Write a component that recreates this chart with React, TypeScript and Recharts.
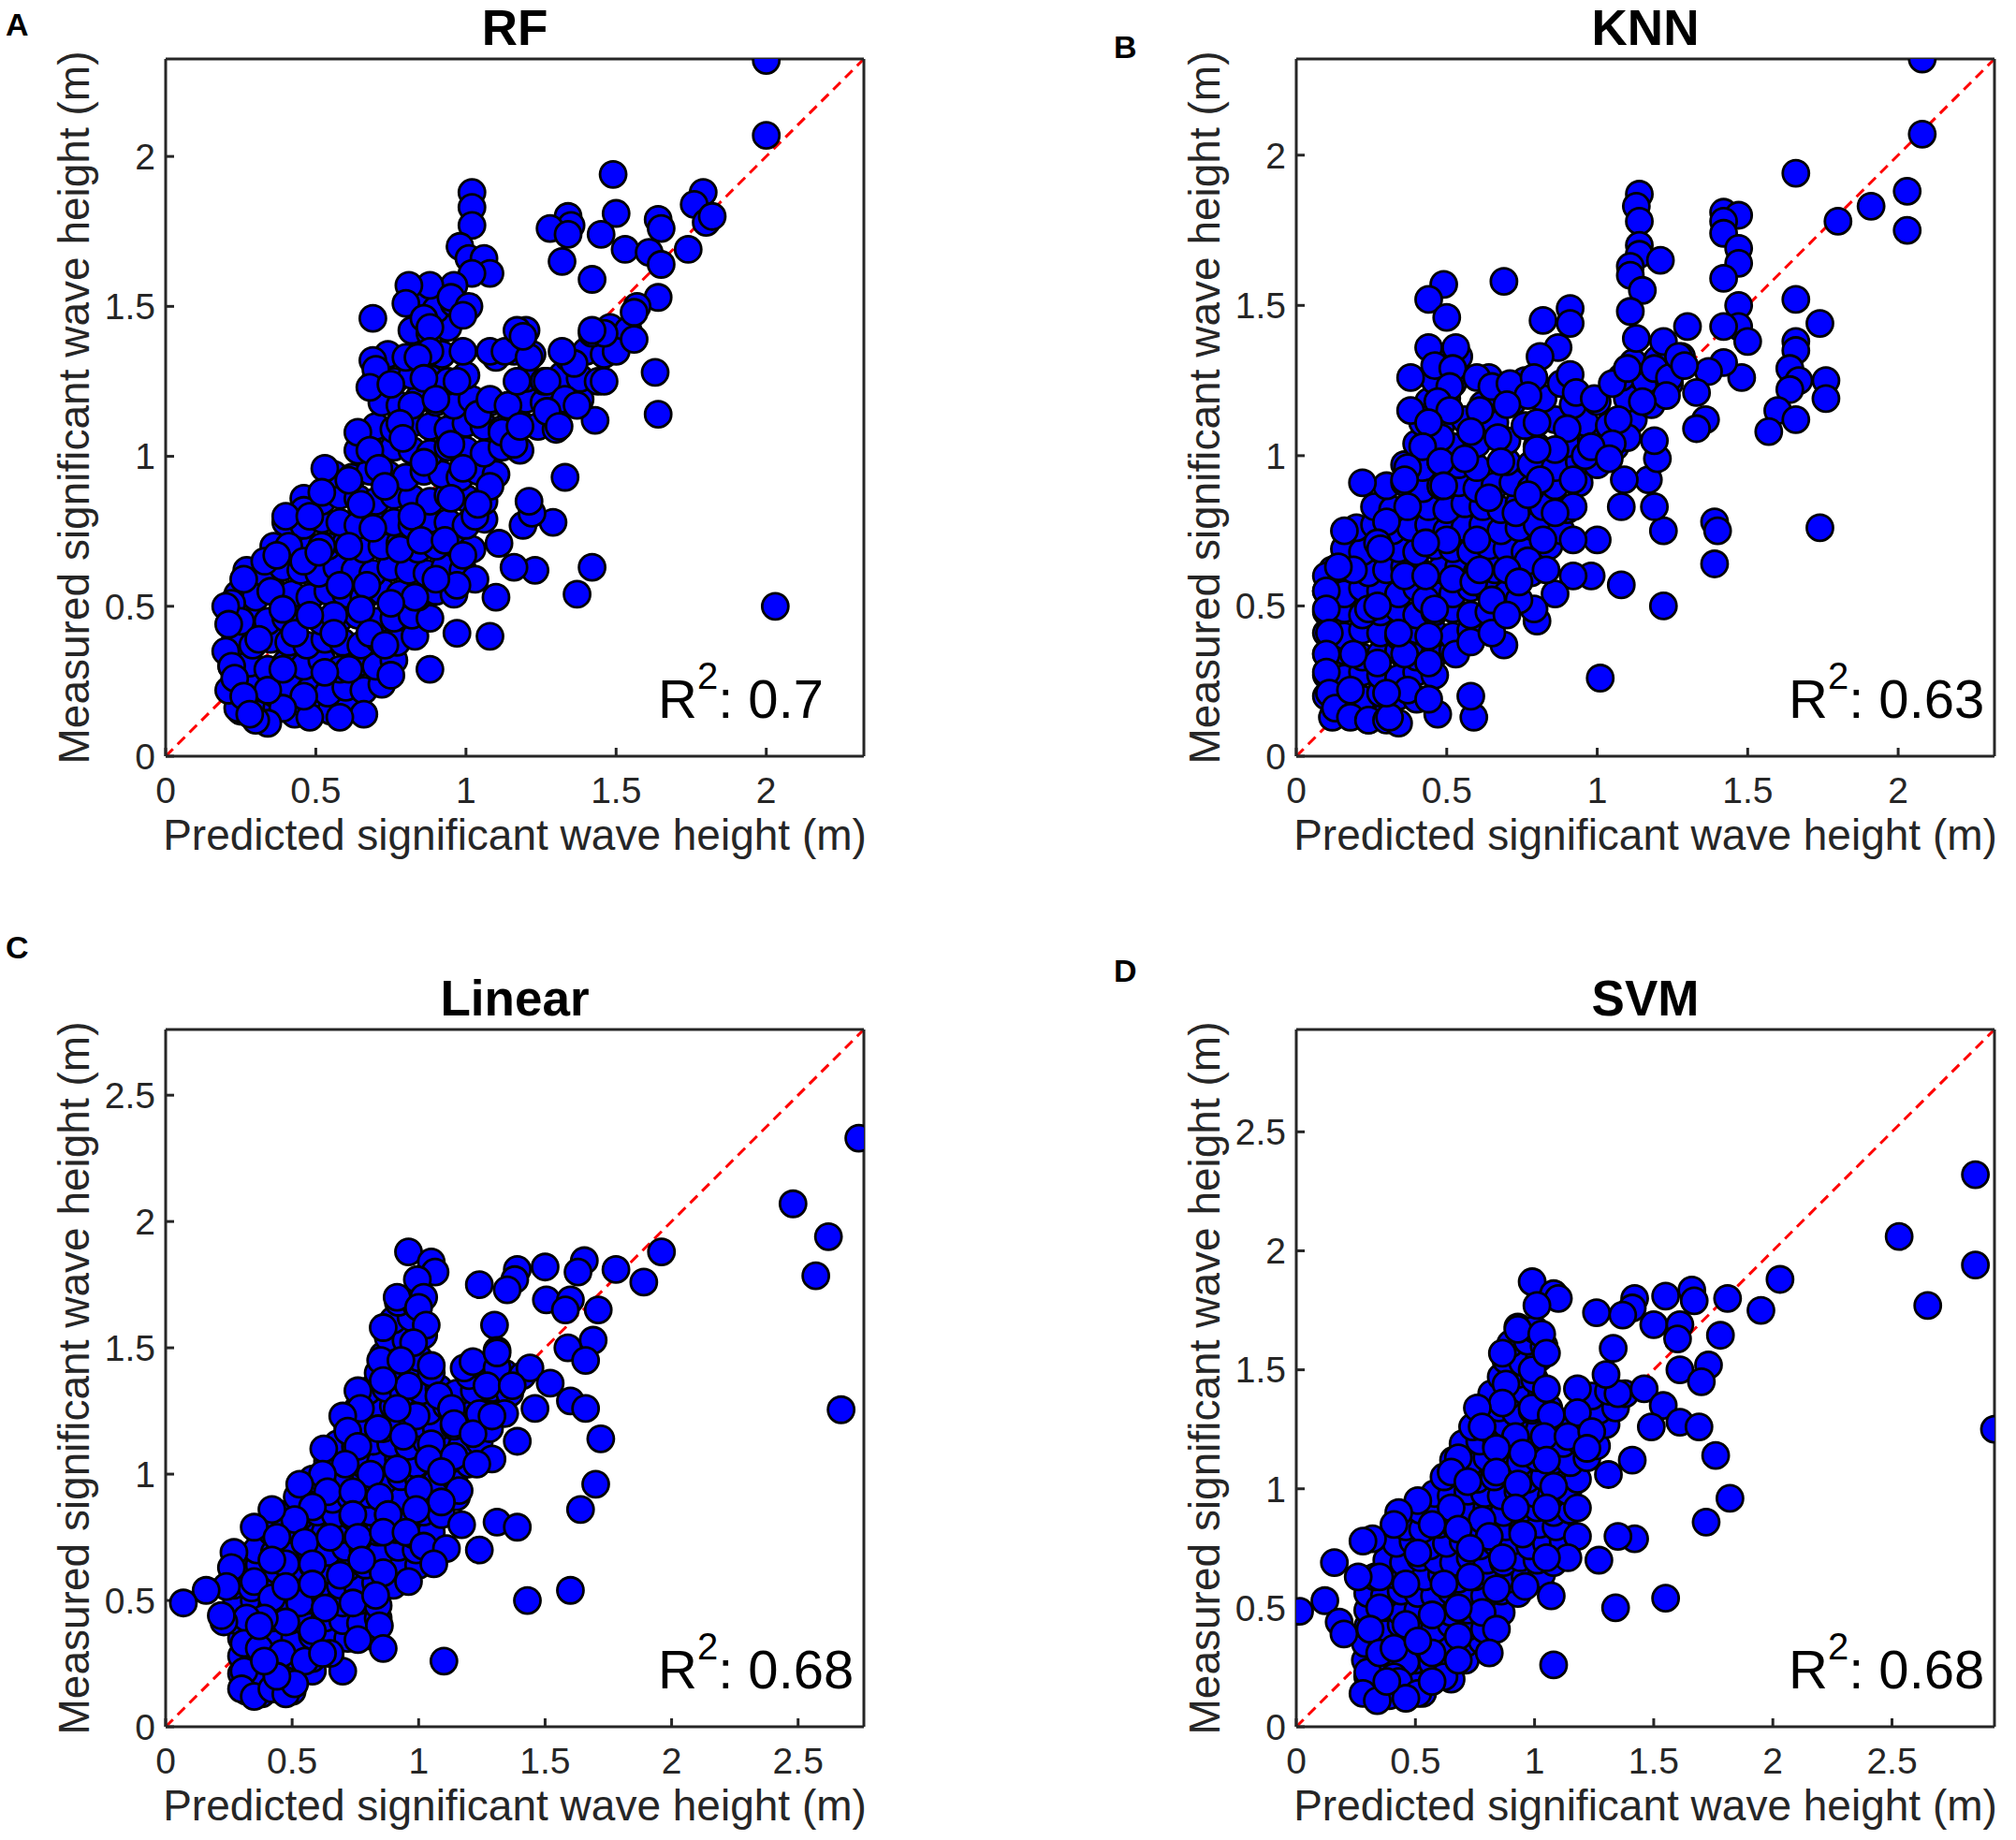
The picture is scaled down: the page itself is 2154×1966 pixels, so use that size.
import React from 'react';
import { ScatterChart, Scatter, XAxis, YAxis, ReferenceLine } from 'recharts';

// All values are [predicted, measured] pairs (m).
// "Core" arrays: points inside the dense clusters; "Pairs" arrays: distinguishable points.
const rfCore: number[][] = [
  [0.25,0.15],[0.31,0.14],[0.37,0.16],[0.43,0.14],[0.49,0.16],[0.55,0.15],[0.61,0.16],
  [0.24,0.22],[0.30,0.23],[0.36,0.21],[0.42,0.23],[0.48,0.22],[0.54,0.21],[0.60,0.23],[0.66,0.22],[0.72,0.24],
  [0.22,0.30],[0.28,0.31],[0.34,0.29],[0.40,0.31],[0.46,0.30],[0.52,0.32],[0.58,0.29],[0.64,0.31],[0.70,0.30],[0.76,0.32],
  [0.23,0.38],[0.29,0.37],[0.35,0.39],[0.41,0.38],[0.47,0.37],[0.53,0.39],[0.59,0.38],[0.65,0.37],[0.71,0.39],[0.77,0.38],[0.83,0.40],
  [0.22,0.46],[0.28,0.47],[0.34,0.45],[0.40,0.46],[0.46,0.47],[0.52,0.45],[0.58,0.46],[0.64,0.47],[0.70,0.45],[0.76,0.46],[0.82,0.47],[0.88,0.46],
  [0.24,0.54],[0.30,0.53],[0.36,0.55],[0.42,0.54],[0.48,0.53],[0.54,0.55],[0.60,0.54],[0.66,0.53],[0.72,0.55],[0.78,0.54],[0.84,0.53],[0.90,0.55],[0.96,0.54],
  [0.27,0.62],[0.33,0.61],[0.39,0.63],[0.45,0.62],[0.51,0.61],[0.57,0.63],[0.63,0.62],[0.69,0.61],[0.75,0.63],[0.81,0.62],[0.87,0.61],[0.93,0.63],[0.99,0.62],
  [0.36,0.70],[0.42,0.71],[0.48,0.69],[0.54,0.70],[0.60,0.71],[0.66,0.69],[0.72,0.70],[0.78,0.71],[0.84,0.69],[0.90,0.70],[0.96,0.71],[1.02,0.69],
  [0.40,0.78],[0.46,0.77],[0.52,0.79],[0.58,0.78],[0.64,0.77],[0.70,0.79],[0.76,0.78],[0.82,0.77],[0.88,0.79],[0.94,0.78],[1.00,0.77],[1.06,0.79],
  [0.46,0.86],[0.52,0.85],[0.58,0.87],[0.64,0.86],[0.70,0.85],[0.76,0.87],[0.82,0.86],[0.88,0.85],[0.94,0.87],[1.00,0.86],[1.06,0.85],
  [0.56,0.94],[0.62,0.93],[0.68,0.95],[0.74,0.94],[0.80,0.93],[0.86,0.95],[0.92,0.94],[0.98,0.93],[1.04,0.95],[1.10,0.94],
  [0.64,1.02],[0.70,1.01],[0.76,1.03],[0.82,1.02],[0.88,1.01],[0.94,1.03],[1.00,1.02],[1.06,1.01],[1.12,1.03],[1.18,1.02],
  [0.70,1.10],[0.76,1.09],[0.82,1.11],[0.88,1.10],[0.94,1.09],[1.00,1.11],[1.06,1.10],[1.12,1.09],[1.18,1.11],[1.24,1.10],[1.30,1.09],
  [0.72,1.18],[0.78,1.17],[0.84,1.19],[0.90,1.18],[0.96,1.17],[1.02,1.19],[1.08,1.18],[1.14,1.17],[1.20,1.19],[1.26,1.18],[1.32,1.17],[1.38,1.19],
  [0.70,1.26],[0.76,1.25],[0.82,1.27],[0.88,1.26],[0.94,1.25],[1.00,1.27],[1.20,1.26],[1.26,1.25],[1.32,1.27],[1.38,1.26],[1.44,1.25],
  [0.74,1.34],[0.80,1.33],[0.86,1.35],[0.92,1.34],[1.10,1.33],[1.16,1.35],[1.22,1.34],[1.34,1.33],[1.40,1.35],[1.46,1.34],
  [0.82,1.42],[0.88,1.41],[0.94,1.43],[1.20,1.42],[1.42,1.41],[1.48,1.43],[1.54,1.42],
  [0.84,1.50],[0.90,1.49],[0.96,1.51],
];

const rfPairs: number[][] = [
  [2.0,2.32],[2.0,2.07],[2.03,0.5],[1.49,1.94],[1.79,1.88],[1.76,1.84],[1.80,1.78],[1.82,1.80],[1.50,1.81],[1.34,1.80],
  [1.35,1.77],[1.28,1.76],[1.45,1.74],[1.34,1.74],[1.53,1.69],[1.74,1.69],[1.64,1.79],[1.65,1.76],[1.61,1.68],[1.65,1.64],
  [1.32,1.65],[1.42,1.59],[1.64,1.53],[1.57,1.50],[1.56,1.48],[1.63,1.28],[1.64,1.14],[1.50,1.35],[1.56,1.39],[1.46,1.41],
  [1.42,1.42],[1.46,1.25],[1.43,1.12],[1.33,0.93],[1.29,0.78],[1.19,0.77],[1.22,0.81],[1.21,0.85],[1.42,0.63],[1.37,0.54],
  [1.23,0.62],[1.16,0.63],[1.11,0.71],[1.10,0.53],[1.08,0.40],[0.97,0.41],[0.88,0.29],
  [1.02,1.88],[1.02,1.83],[1.02,1.77],[0.98,1.70],[1.01,1.66],[1.06,1.66],[1.08,1.61],[1.02,1.61],[0.96,1.57],[0.88,1.57],
  [0.95,1.53],[1.01,1.50],[0.99,1.47],[0.81,1.57],[0.80,1.51],[0.86,1.46],[0.88,1.43],[0.69,1.46],[0.88,1.35],[0.84,1.33],
  [0.99,1.35],[1.08,1.35],[1.13,1.35],[1.21,1.33],[1.17,1.42],[1.19,1.40],[0.69,1.32],[0.70,1.29],[0.68,1.23],[0.75,1.24],
  [0.86,1.26],[0.97,1.25],[0.82,1.17],[0.90,1.19],[0.78,1.11],[0.64,1.08],[0.68,1.02],[0.71,0.96],[0.79,1.06],[0.86,0.98],
  [0.95,1.04],[1.04,1.14],[1.08,1.19],[1.14,1.17],[1.12,1.08],[1.16,1.04],[1.17,1.25],[1.27,1.25],[1.33,1.19],[1.36,1.31],
  [1.32,1.35],[1.27,1.15],[1.31,1.10],[1.37,1.17],[1.18,1.10],
  [0.53,0.96],[0.61,0.92],[0.46,0.82],[0.40,0.80],[0.48,0.80],[0.52,0.88],[0.65,0.84],[0.73,0.90],[0.82,0.80],[0.95,0.86],
  [1.03,0.80],[1.08,0.90],[0.99,0.96],[1.04,0.84],[0.41,0.70],[0.46,0.65],[0.52,0.70],[0.61,0.70],[0.69,0.76],[0.78,0.69],
  [0.85,0.72],[0.93,0.72],[0.99,0.67],[1.03,0.59],[0.97,0.57],[0.90,0.59],[0.83,0.53],[0.75,0.51],[0.67,0.57],[0.58,0.57],
  [0.56,0.47],[0.65,0.49],[0.68,0.41],[0.73,0.37],[0.75,0.27],[0.66,0.14],[0.61,0.29],[0.56,0.41],[0.53,0.28],[0.58,0.13],
  [0.48,0.13],[0.46,0.20],[0.39,0.16],[0.34,0.11],[0.30,0.12],[0.24,0.16],[0.21,0.22],[0.20,0.35],[0.22,0.51],[0.26,0.59],
  [0.33,0.65],[0.35,0.55],[0.25,0.45],[0.31,0.39],[0.34,0.22],[0.39,0.29],[0.43,0.41],[0.48,0.47],[0.39,0.49],[0.51,0.68],
  [0.37,0.67],[0.20,0.50],[0.21,0.44],[0.22,0.30],[0.23,0.26],[0.26,0.20],[0.28,0.14],
];

const knnCore: number[][] = [
  [0.12,0.13],[0.18,0.14],[0.24,0.12],[0.30,0.14],
  [0.10,0.20],[0.16,0.21],[0.22,0.19],[0.28,0.21],[0.34,0.20],[0.40,0.19],
  [0.10,0.27],[0.16,0.26],[0.22,0.28],[0.28,0.27],[0.34,0.26],[0.40,0.28],[0.46,0.27],
  [0.10,0.34],[0.16,0.35],[0.22,0.33],[0.28,0.34],[0.34,0.35],[0.40,0.33],[0.46,0.34],[0.52,0.35],
  [0.10,0.41],[0.16,0.40],[0.22,0.42],[0.28,0.41],[0.34,0.40],[0.40,0.42],[0.46,0.41],[0.52,0.40],[0.58,0.42],
  [0.10,0.48],[0.16,0.49],[0.22,0.47],[0.28,0.48],[0.34,0.49],[0.40,0.47],[0.46,0.48],[0.52,0.49],[0.58,0.47],[0.64,0.48],
  [0.10,0.55],[0.16,0.54],[0.22,0.56],[0.28,0.55],[0.34,0.54],[0.40,0.56],[0.46,0.55],[0.52,0.54],[0.58,0.56],[0.64,0.55],[0.70,0.54],
  [0.12,0.62],[0.18,0.63],[0.24,0.61],[0.30,0.62],[0.36,0.63],[0.42,0.61],[0.48,0.62],[0.54,0.63],[0.60,0.61],[0.66,0.62],[0.72,0.63],[0.78,0.61],
  [0.16,0.69],[0.22,0.68],[0.28,0.70],[0.34,0.69],[0.40,0.68],[0.46,0.70],[0.52,0.69],[0.58,0.68],[0.64,0.70],[0.70,0.69],[0.76,0.68],[0.84,0.70],
  [0.20,0.76],[0.26,0.77],[0.32,0.75],[0.38,0.76],[0.44,0.77],[0.50,0.75],[0.56,0.76],[0.62,0.77],[0.68,0.75],[0.74,0.76],[0.80,0.77],[0.88,0.75],
  [0.26,0.83],[0.32,0.82],[0.38,0.84],[0.44,0.83],[0.50,0.82],[0.56,0.84],[0.62,0.83],[0.68,0.82],[0.74,0.84],[0.82,0.83],[0.90,0.82],
  [0.30,0.90],[0.36,0.91],[0.42,0.89],[0.48,0.90],[0.54,0.91],[0.60,0.89],[0.66,0.90],[0.72,0.91],[0.78,0.89],[0.86,0.90],[0.94,0.91],
  [0.36,0.97],[0.42,0.96],[0.48,0.98],[0.54,0.97],[0.60,0.96],[0.70,0.98],[0.78,0.97],[0.86,0.96],[0.94,0.98],[1.00,0.97],
  [0.40,1.04],[0.46,1.05],[0.52,1.03],[0.60,1.04],[0.70,1.05],[0.80,1.03],[0.90,1.04],[0.98,1.05],[1.06,1.03],
  [0.42,1.11],[0.48,1.10],[0.56,1.12],[0.66,1.11],[0.76,1.10],[0.86,1.12],[0.96,1.11],[1.04,1.10],[1.12,1.12],
  [0.44,1.18],[0.50,1.19],[0.62,1.17],[0.72,1.18],[0.82,1.19],[0.92,1.17],[1.00,1.18],[1.10,1.19],[1.18,1.17],
  [0.46,1.25],[0.52,1.24],[0.64,1.26],[0.76,1.25],[0.88,1.24],[1.08,1.26],[1.16,1.25],[1.24,1.24],
  [0.48,1.32],[0.54,1.33],[1.12,1.31],[1.20,1.32],[1.28,1.33],
];

const knnPairs: number[][] = [
  [2.08,2.32],[2.08,2.07],[1.66,1.94],[2.03,1.88],[1.91,1.83],[1.80,1.78],[2.03,1.75],[1.14,1.87],[1.13,1.83],[1.14,1.78],
  [1.14,1.70],[1.14,1.67],[1.21,1.65],[1.11,1.63],[1.11,1.60],[1.15,1.55],[1.11,1.48],[1.13,1.39],[1.42,1.81],[1.47,1.80],
  [1.42,1.78],[1.42,1.74],[1.47,1.69],[1.47,1.64],[1.42,1.59],[1.66,1.52],[1.47,1.50],[1.74,1.44],[1.47,1.43],[1.42,1.43],
  [1.50,1.38],[1.66,1.38],[1.66,1.35],[1.64,1.29],[1.67,1.25],[1.76,1.25],[1.76,1.19],[1.64,1.22],[1.60,1.15],[1.57,1.08],
  [1.66,1.12],[1.48,1.26],[1.42,1.31],[1.37,1.28],[1.30,1.43],[1.33,1.21],[1.36,1.12],[1.33,1.09],[1.74,0.76],[1.39,0.78],
  [1.40,0.75],[1.39,0.64],[1.22,0.50],[1.22,0.75],[1.19,0.83],[1.08,0.83],[1.08,0.57],[1.01,0.26],[1.17,0.92],[1.09,0.92],
  [1.20,0.99],[1.19,1.05],[1.10,1.06],[1.07,1.12],[1.05,1.04],[1.00,0.72],[0.98,0.60],[0.92,0.60],[0.86,0.54],[0.80,0.45],
  [0.79,0.49],[0.74,0.52],[0.69,0.37],[0.59,0.13],[0.58,0.20],[0.47,0.14],[0.69,1.58],[0.82,1.45],[0.91,1.49],[0.91,1.44],
  [0.87,1.36],[0.81,1.33],[0.91,1.27],[0.93,1.21],[0.99,1.19],[1.05,1.24],[1.10,1.29],[1.19,1.29],[1.22,1.38],[1.24,1.26],
  [1.27,1.33],[1.29,1.30],[1.23,1.20],[1.15,1.18],[0.49,1.57],[0.44,1.52],[0.50,1.46],[0.53,1.36],[0.44,1.36],[0.46,1.30],
  [0.38,1.26],[0.52,1.29],[0.51,1.23],[0.38,1.15],[0.47,1.18],[0.51,1.15],[0.60,1.26],[0.65,1.23],[0.71,1.24],[0.79,1.26],
  [0.77,1.20],[0.61,1.15],[0.70,1.17],[0.80,1.11],[0.90,1.09],[0.86,1.02],[0.80,1.02],[0.67,1.06],[0.58,1.08],[0.48,1.06],
  [0.44,1.11],[0.42,1.03],[0.48,0.98],[0.56,0.99],[0.68,0.98],[0.81,0.92],[0.96,1.00],[0.98,1.03],[1.04,0.99],[0.92,0.83],
  [0.92,0.92],[0.37,0.96],[0.22,0.91],[0.36,0.92],[0.49,0.90],[0.64,0.86],[0.73,0.81],[0.77,0.87],[0.86,0.81],[0.92,0.72],
  [0.82,0.72],[0.77,0.65],[0.70,0.62],[0.60,0.72],[0.50,0.72],[0.43,0.71],[0.37,0.83],[0.30,0.78],[0.27,0.71],[0.16,0.75],
  [0.19,0.62],[0.10,0.60],[0.10,0.55],[0.10,0.49],[0.11,0.41],[0.10,0.34],[0.10,0.28],[0.11,0.21],[0.13,0.16],[0.18,0.13],
  [0.24,0.12],[0.30,0.12],[0.34,0.11],[0.31,0.13],[0.18,0.22],[0.27,0.31],[0.36,0.34],[0.44,0.31],[0.53,0.34],[0.58,0.38],
  [0.44,0.40],[0.34,0.41],[0.24,0.49],[0.27,0.50],[0.43,0.52],[0.52,0.59],[0.59,0.58],[0.65,0.52],[0.65,0.41],[0.61,0.62],
  [0.28,0.69],[0.36,0.60],[0.43,0.60],[0.14,0.63],[0.37,0.22],[0.44,0.19],[0.30,0.21],[0.19,0.34],[0.46,0.49],[0.70,0.47],
  [0.74,0.58],[0.83,0.62],
];

const linearCore: number[][] = [
  [0.32,0.14],[0.38,0.13],[0.44,0.15],[0.50,0.14],
  [0.30,0.21],[0.37,0.22],[0.44,0.20],[0.51,0.21],[0.58,0.22],
  [0.30,0.28],[0.37,0.27],[0.44,0.29],[0.51,0.28],[0.58,0.27],[0.65,0.29],
  [0.30,0.35],[0.37,0.36],[0.44,0.34],[0.51,0.35],[0.58,0.36],[0.65,0.34],[0.72,0.35],[0.80,0.36],
  [0.28,0.42],[0.35,0.41],[0.42,0.43],[0.49,0.42],[0.56,0.41],[0.63,0.43],[0.70,0.42],[0.77,0.41],[0.84,0.43],
  [0.28,0.49],[0.35,0.50],[0.42,0.48],[0.49,0.49],[0.56,0.50],[0.63,0.48],[0.70,0.49],[0.77,0.50],[0.84,0.48],
  [0.27,0.56],[0.34,0.55],[0.41,0.57],[0.48,0.56],[0.55,0.55],[0.62,0.57],[0.69,0.56],[0.76,0.55],[0.83,0.57],[0.90,0.56],
  [0.30,0.63],[0.37,0.64],[0.44,0.62],[0.51,0.63],[0.58,0.64],[0.65,0.62],[0.72,0.63],[0.79,0.64],[0.86,0.62],[0.93,0.63],[1.00,0.64],
  [0.36,0.70],[0.43,0.69],[0.50,0.71],[0.57,0.70],[0.64,0.69],[0.71,0.71],[0.78,0.70],[0.85,0.69],[0.92,0.71],[0.99,0.70],[1.06,0.69],
  [0.42,0.77],[0.49,0.78],[0.56,0.76],[0.63,0.77],[0.70,0.78],[0.77,0.76],[0.84,0.77],[0.91,0.78],[0.98,0.76],[1.05,0.77],
  [0.46,0.84],[0.53,0.83],[0.60,0.85],[0.67,0.84],[0.74,0.83],[0.81,0.85],[0.88,0.84],[0.95,0.83],[1.02,0.85],[1.09,0.84],
  [0.52,0.91],[0.59,0.92],[0.66,0.90],[0.73,0.91],[0.80,0.92],[0.87,0.90],[0.94,0.91],[1.01,0.92],[1.08,0.90],[1.15,0.91],
  [0.58,0.98],[0.65,0.97],[0.72,0.99],[0.79,0.98],[0.86,0.97],[0.93,0.99],[1.00,0.98],[1.07,0.97],[1.14,0.99],
  [0.64,1.05],[0.71,1.06],[0.78,1.04],[0.85,1.05],[0.92,1.06],[0.99,1.04],[1.06,1.05],[1.13,1.06],[1.20,1.04],
  [0.68,1.12],[0.75,1.11],[0.82,1.13],[0.89,1.12],[0.96,1.11],[1.03,1.13],[1.10,1.12],[1.17,1.11],[1.24,1.13],
  [0.72,1.19],[0.79,1.20],[0.86,1.18],[0.93,1.19],[1.00,1.20],[1.07,1.18],[1.14,1.19],[1.21,1.20],[1.28,1.18],
  [0.76,1.26],[0.83,1.25],[0.90,1.27],[0.97,1.26],[1.04,1.25],[1.11,1.27],[1.18,1.26],[1.25,1.25],[1.32,1.27],
  [0.80,1.33],[0.87,1.34],[0.94,1.32],[1.01,1.33],[1.08,1.34],[1.15,1.32],[1.22,1.33],[1.29,1.34],[1.36,1.32],
  [0.84,1.40],[0.91,1.39],[0.98,1.41],[1.05,1.40],[1.20,1.39],[1.27,1.41],[1.34,1.40],[1.41,1.39],
  [0.86,1.47],[0.93,1.48],[1.00,1.46],[0.88,1.54],[0.95,1.53],[1.02,1.55],[0.90,1.61],[0.97,1.62],[0.92,1.68],[0.99,1.67],
];

const linearPairs: number[][] = [
  [2.74,2.33],[2.48,2.07],[2.62,1.94],[2.57,1.785],[2.67,1.255],[1.96,1.88],[1.89,1.76],[1.78,1.81],[1.655,1.845],[1.63,1.80],
  [1.50,1.82],[1.39,1.81],[1.38,1.77],[1.35,1.73],[1.24,1.75],[1.505,1.69],[1.60,1.69],[1.58,1.65],[1.71,1.65],[1.30,1.59],
  [1.69,1.53],[1.59,1.50],[1.66,1.45],[1.31,1.49],[1.44,1.42],[1.52,1.36],[1.60,1.29],[1.66,1.26],[1.46,1.26],[1.72,1.14],
  [1.39,1.13],[1.29,1.06],[1.70,0.96],[1.64,0.86],[1.17,0.80],[1.31,0.81],[1.39,0.79],[1.24,0.70],[1.60,0.54],[1.43,0.50],
  [1.10,0.26],[0.96,1.88],[1.05,1.84],[1.065,1.80],[0.995,1.77],[0.915,1.70],[1.02,1.70],[1.00,1.66],[0.86,1.58],[1.03,1.59],
  [0.98,1.52],[0.85,1.45],[0.93,1.45],[1.05,1.43],[0.96,1.35],[0.76,1.33],[0.86,1.37],[1.18,1.42],[1.215,1.445],[1.31,1.42],
  [1.31,1.48],[1.27,1.35],[1.37,1.35],[1.08,1.31],[1.13,1.26],[1.24,1.24],[1.34,1.24],[1.14,1.20],[1.215,1.16],[1.29,1.23],
  [0.99,1.23],[0.915,1.26],[0.84,1.18],[0.77,1.26],[0.70,1.23],[0.72,1.17],[0.625,1.10],[0.76,1.11],[0.94,1.15],[1.05,1.12],
  [1.04,1.06],[1.14,1.07],[1.23,1.04],[1.09,1.01],[0.915,1.02],[0.81,1.00],[0.71,1.04],[0.62,1.00],[0.53,0.96],[0.64,0.93],
  [0.74,0.93],[0.845,0.91],[1.00,0.94],[1.16,0.935],[1.09,0.89],[0.99,0.86],[0.88,0.84],[0.74,0.84],[0.58,0.87],[0.51,0.82],
  [0.42,0.86],[0.35,0.79],[0.44,0.75],[0.55,0.73],[0.65,0.75],[0.76,0.75],[0.86,0.77],[0.95,0.77],[1.02,0.715],[1.11,0.705],
  [1.06,0.645],[0.96,0.575],[0.86,0.61],[0.775,0.66],[0.69,0.60],[0.58,0.645],[0.475,0.645],[0.42,0.66],[0.27,0.69],[0.26,0.63],
  [0.24,0.555],[0.35,0.575],[0.42,0.51],[0.53,0.49],[0.63,0.47],[0.74,0.49],[0.83,0.52],[0.845,0.40],[0.86,0.31],[0.76,0.345],
  [0.70,0.22],[0.65,0.29],[0.58,0.38],[0.475,0.415],[0.39,0.43],[0.32,0.43],[0.23,0.415],[0.22,0.44],[0.16,0.54],[0.07,0.49],
  [0.31,0.33],[0.37,0.31],[0.46,0.29],[0.55,0.26],[0.62,0.29],[0.31,0.22],[0.30,0.15],[0.35,0.12],[0.42,0.15],[0.475,0.13],
  [0.51,0.17],[0.44,0.20],[0.39,0.26],[0.37,0.40],[0.475,0.555],[0.58,0.565],
];

const svmCore: number[][] = [
  [0.32,0.14],[0.39,0.13],[0.46,0.15],[0.53,0.14],
  [0.30,0.21],[0.37,0.22],[0.44,0.20],[0.51,0.21],[0.58,0.22],[0.65,0.20],
  [0.29,0.28],[0.36,0.27],[0.43,0.29],[0.50,0.28],[0.57,0.27],[0.64,0.29],[0.71,0.28],
  [0.29,0.35],[0.36,0.36],[0.43,0.34],[0.50,0.35],[0.57,0.36],[0.64,0.34],[0.71,0.35],[0.78,0.36],
  [0.30,0.42],[0.37,0.41],[0.44,0.43],[0.51,0.42],[0.58,0.41],[0.65,0.43],[0.72,0.42],[0.79,0.41],
  [0.30,0.49],[0.37,0.50],[0.44,0.48],[0.51,0.49],[0.58,0.50],[0.65,0.48],[0.72,0.49],[0.79,0.50],[0.86,0.48],
  [0.30,0.56],[0.37,0.55],[0.44,0.57],[0.51,0.56],[0.58,0.55],[0.65,0.57],[0.72,0.56],[0.79,0.55],[0.86,0.57],[0.93,0.56],
  [0.33,0.63],[0.40,0.64],[0.47,0.62],[0.54,0.63],[0.61,0.64],[0.68,0.62],[0.75,0.63],[0.82,0.64],[0.89,0.62],[0.96,0.63],[1.03,0.64],
  [0.38,0.70],[0.45,0.69],[0.52,0.71],[0.59,0.70],[0.66,0.69],[0.73,0.71],[0.80,0.70],[0.87,0.69],[0.94,0.71],[1.01,0.70],[1.08,0.69],
  [0.42,0.77],[0.49,0.78],[0.56,0.76],[0.63,0.77],[0.70,0.78],[0.77,0.76],[0.84,0.77],[0.91,0.78],[0.98,0.76],[1.05,0.77],[1.12,0.78],
  [0.46,0.84],[0.53,0.83],[0.60,0.85],[0.67,0.84],[0.74,0.83],[0.81,0.85],[0.88,0.84],[0.95,0.83],[1.02,0.85],[1.09,0.84],
  [0.52,0.91],[0.59,0.92],[0.66,0.90],[0.73,0.91],[0.80,0.92],[0.87,0.90],[0.94,0.91],[1.01,0.92],[1.08,0.90],[1.15,0.91],
  [0.58,0.98],[0.65,0.97],[0.72,0.99],[0.79,0.98],[0.86,0.97],[0.93,0.99],[1.00,0.98],[1.07,0.97],[1.14,0.99],
  [0.62,1.05],[0.69,1.06],[0.76,1.04],[0.83,1.05],[0.90,1.06],[0.97,1.04],[1.04,1.05],[1.11,1.06],[1.18,1.04],
  [0.66,1.12],[0.73,1.11],[0.80,1.13],[0.87,1.12],[0.94,1.11],[1.01,1.13],[1.08,1.12],[1.15,1.11],[1.22,1.13],
  [0.70,1.19],[0.77,1.20],[0.84,1.18],[0.91,1.19],[0.98,1.20],[1.05,1.18],[1.12,1.19],[1.19,1.20],[1.26,1.18],
  [0.74,1.26],[0.81,1.25],[0.88,1.27],[0.95,1.26],[1.02,1.25],[1.09,1.27],[1.16,1.26],[1.23,1.25],[1.30,1.27],
  [0.78,1.33],[0.85,1.34],[0.92,1.32],[0.99,1.33],[1.06,1.34],[1.20,1.32],[1.27,1.33],[1.34,1.34],
  [0.82,1.40],[0.89,1.39],[0.96,1.41],[1.03,1.40],[1.24,1.39],[1.31,1.41],[1.38,1.40],
  [0.86,1.47],[0.93,1.48],[1.00,1.46],[0.88,1.54],[0.95,1.53],[1.02,1.55],[0.90,1.61],[0.97,1.62],[1.04,1.60],[0.93,1.68],[1.00,1.67],
];

const svmPairs: number[][] = [
  [2.85,2.32],[2.53,2.06],[2.85,1.94],[2.65,1.77],[2.93,1.25],[2.03,1.88],[1.95,1.75],[1.81,1.80],[1.78,1.645],[1.66,1.835],
  [1.67,1.79],[1.55,1.81],[1.42,1.80],[1.41,1.76],[1.37,1.73],[1.26,1.74],[1.50,1.69],[1.61,1.69],[1.60,1.63],[1.33,1.59],
  [1.61,1.50],[1.73,1.52],[1.70,1.45],[1.46,1.42],[1.54,1.35],[1.35,1.40],[1.30,1.48],[1.49,1.26],[1.61,1.28],[1.69,1.26],
  [1.76,1.14],[1.41,1.12],[1.31,1.06],[1.82,0.96],[1.72,0.86],[1.42,0.79],[1.35,0.80],[1.27,0.70],[1.34,0.50],[1.55,0.54],
  [1.08,0.26],[0.99,1.87],[1.08,1.82],[1.10,1.80],[1.01,1.77],[0.93,1.67],[1.03,1.65],[0.865,1.57],[0.99,1.50],[1.05,1.57],
  [0.88,1.44],[0.99,1.34],[1.05,1.42],[1.18,1.42],[1.18,1.32],[1.07,1.31],[0.865,1.36],[0.76,1.34],[0.78,1.26],[0.92,1.22],
  [1.04,1.22],[1.14,1.22],[1.24,1.24],[1.22,1.17],[1.05,1.12],[0.95,1.15],[0.84,1.17],[0.68,1.13],[0.65,1.07],[0.72,1.03],
  [0.84,1.07],[0.93,1.02],[1.08,1.01],[1.18,0.92],[1.05,0.92],[0.92,0.92],[0.78,0.87],[0.65,0.92],[0.51,0.95],[0.43,0.90],
  [0.57,0.85],[0.68,0.83],[0.81,0.80],[0.95,0.81],[1.18,0.80],[1.14,0.71],[1.05,0.71],[0.865,0.71],[0.73,0.75],[0.51,0.73],
  [0.41,0.85],[0.32,0.79],[0.28,0.78],[0.35,0.63],[0.26,0.63],[0.16,0.69],[0.12,0.53],[0.014,0.485],[0.18,0.44],[0.20,0.39],
  [0.46,0.60],[0.62,0.60],[0.73,0.63],[0.84,0.58],[0.96,0.59],[1.07,0.55],[0.78,0.48],[0.68,0.50],[0.57,0.47],[0.46,0.43],
  [0.35,0.50],[0.31,0.41],[0.84,0.41],[0.81,0.31],[0.68,0.38],[0.57,0.31],[0.46,0.27],[0.62,0.21],[0.41,0.21],[0.30,0.23],
  [0.28,0.14],[0.34,0.11],[0.43,0.19],[0.51,0.14],[0.46,0.12],[0.35,0.31],[0.41,0.33],[0.51,0.36],[0.68,0.28],[0.57,0.19],
  [0.38,0.19],
];

const xLabel = 'Predicted significant wave height (m)';
const yLabel = 'Measured significant wave height (m)';

const ticksSmall = [0, 0.5, 1, 1.5, 2];
const ticksLarge = [0, 0.5, 1, 1.5, 2, 2.5];

const panels = [
  { letter: 'A', title: 'RF', r2: '0.7', pairs: [...rfCore, ...rfPairs], max: 2.325, ticks: ticksSmall, col: 0, row: 0 },
  { letter: 'B', title: 'KNN', r2: '0.63', pairs: [...knnCore, ...knnPairs], max: 2.32, ticks: ticksSmall, col: 1, row: 0 },
  { letter: 'C', title: 'Linear', r2: '0.68', pairs: [...linearCore, ...linearPairs], max: 2.76, ticks: ticksLarge, col: 0, row: 1 },
  { letter: 'D', title: 'SVM', r2: '0.68', pairs: [...svmCore, ...svmPairs], max: 2.93, ticks: ticksLarge, col: 1, row: 1 },
];

const PLOT_W = 746;
const PLOT_H = 745;
const YAXIS_W = 177;
const MT = 63;
const XAXIS_H = 120;
const MR = 20;
const PLOT_LEFTS = [177, 1385];
const PLOT_TOPS = [63, 1100];
const LETTER_POS = [
  [[6, 38], [1190, 62]],
  [[6, 1024], [1190, 1049]],
];
const AX = '#262626';

const Dot = (p: any) => (
  <circle cx={p.cx} cy={p.cy} r={14} fill="#0000ff" stroke="#000000" strokeWidth={2.8} />
);

function Panel({ cfg }: { cfg: any }) {
  const data = cfg.pairs.map((d: number[]) => ({ x: d[0], y: d[1] }));
  const left = PLOT_LEFTS[cfg.col] - YAXIS_W;
  const top = PLOT_TOPS[cfg.row] - MT;
  const line = { stroke: AX, strokeWidth: 3 };
  const tickStyle = { fontSize: 39, fill: AX };
  return (
    <div style={{ position: 'absolute', left, top }}>
      <ScatterChart
        width={YAXIS_W + PLOT_W + MR}
        height={MT + PLOT_H + XAXIS_H}
        margin={{ top: MT - 1, right: MR - 1, bottom: 0, left: 0 }}
      >
        <XAxis
          type="number" dataKey="x" domain={[0, cfg.max]} ticks={cfg.ticks} interval={0}
          height={XAXIS_H} tickSize={-9} tickMargin={31} axisLine={line} tickLine={line} tick={tickStyle}
          allowDataOverflow
        />
        <YAxis
          type="number" dataKey="y" domain={[0, cfg.max]} ticks={cfg.ticks} interval={0}
          width={YAXIS_W} tickSize={-9} tickMargin={20} axisLine={line} tickLine={line} tick={tickStyle}
          allowDataOverflow
        />
        <XAxis
          xAxisId="top" orientation="top" type="number" domain={[0, cfg.max]} ticks={cfg.ticks} interval={0}
          height={1} tickSize={-9} axisLine={line} tickLine={line} tick={false} allowDataOverflow
        />
        <YAxis
          yAxisId="right" orientation="right" type="number" domain={[0, cfg.max]} ticks={cfg.ticks} interval={0}
          width={1} tickSize={-9} axisLine={line} tickLine={line} tick={false} allowDataOverflow
        />
        <Scatter data={data} shape={Dot} isAnimationActive={false} />
        <ReferenceLine
          segment={[{ x: 0, y: 0 }, { x: cfg.max, y: cfg.max }]}
          stroke="#ff0000" strokeWidth={3} strokeDasharray="11 7" ifOverflow="visible"
        />
      </ScatterChart>
    </div>
  );
}

function Annotations() {
  return (
    <svg width={2154} height={1966} style={{ position: 'absolute', left: 0, top: 0, pointerEvents: 'none' }}>
      {panels.map((cfg) => {
        const pl = PLOT_LEFTS[cfg.col];
        const pt = PLOT_TOPS[cfg.row];
        const cx = pl + PLOT_W / 2;
        const cy = pt + PLOT_H / 2;
        const [lx, ly] = LETTER_POS[cfg.row][cfg.col];
        return (
          <g key={cfg.letter}>
            <text x={lx} y={ly} fontSize={34} fontWeight="bold" fill="#000">{cfg.letter}</text>
            <text x={cx} y={pt - 15} fontSize={53} fontWeight="bold" fill="#000" textAnchor="middle">{cfg.title}</text>
            <text x={cx} y={pt + PLOT_H + 100} fontSize={46} fill={AX} textAnchor="middle">{xLabel}</text>
            <text
              x={pl - 82} y={cy} fontSize={46} fill={AX} textAnchor="middle"
              transform={`rotate(-90 ${pl - 82} ${cy})`}
            >{yLabel}</text>
            <text x={pl + 526} y={pt + PLOT_H - 41} fontSize={58} fill="#000">
              R<tspan dy={-31} fontSize={40}>2</tspan><tspan dy={31}>{': ' + cfg.r2}</tspan>
            </text>
          </g>
        );
      })}
    </svg>
  );
}

export default function App() {
  return (
    <div
      style={{
        position: 'absolute', left: 0, top: 0, width: 2154, height: 1966, background: '#fff',
        fontFamily: '"Liberation Sans", Arial, Helvetica, sans-serif',
      }}
    >
      {panels.map((cfg) => (
        <Panel key={cfg.letter} cfg={cfg} />
      ))}
      <Annotations />
    </div>
  );
}
